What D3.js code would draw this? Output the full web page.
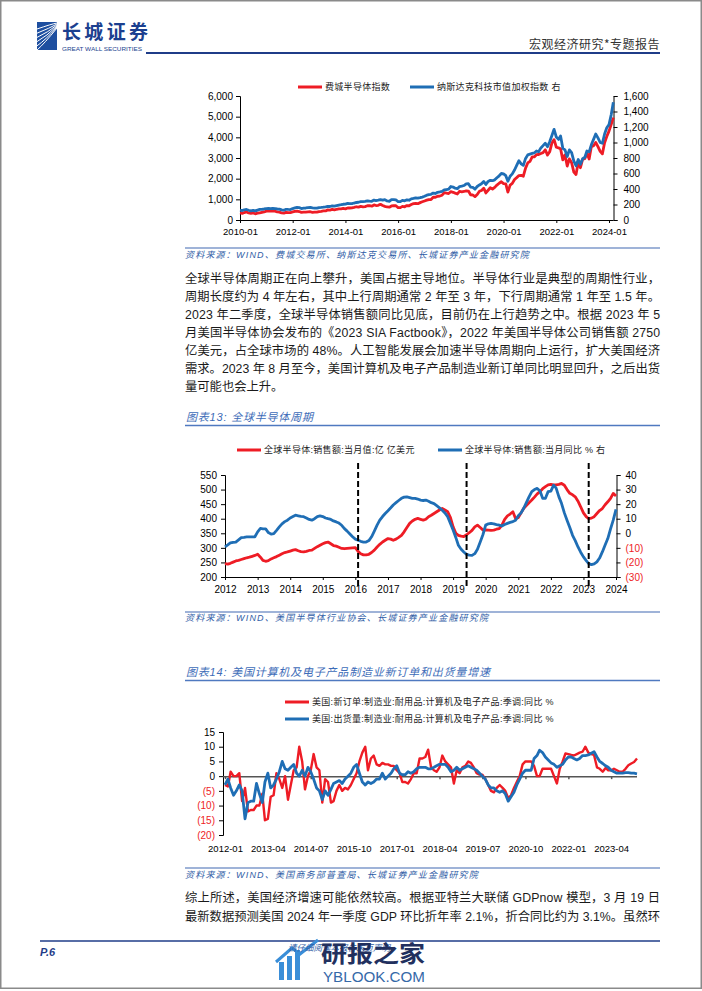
<!DOCTYPE html>
<html><head><meta charset="utf-8">
<script src="https://cdn.jsdelivr.net/npm/d3@7"></script>
<style>
html,body{margin:0;padding:0;background:#fff;}
svg{display:block;}
</style></head>
<body><svg id="page" width="702" height="991"></svg>
<script>
// ================= DATA =================
// Chart 1: monthly, 2010-01 .. 2024-03
const chart1Start = "2010-01";
const soxIndex = [
 340,320,360,390,340,320,340,300,330,350,370,390,
 430,440,430,440,430,390,380,340,330,370,360,360,
 390,420,430,410,370,380,380,390,400,370,380,380,
 410,420,440,440,490,480,510,490,520,540,540,560,
 540,580,580,590,610,640,620,660,640,650,690,690,
 670,730,700,710,760,700,660,630,620,680,700,690,
 600,600,660,640,700,690,750,790,800,790,840,880,
 920,960,990,990,1100,1100,1150,1160,1200,1320,1300,1280,
 1370,1340,1300,1260,1390,1360,1380,1410,1400,1220,1210,1130,
 1230,1390,1430,1540,1310,1440,1560,1500,1580,1690,1780,1850,
 1760,1750,1350,1690,1770,1960,2050,2150,2160,2120,2510,2760,
 2840,3050,3050,3160,3170,3220,3260,3400,3140,3300,3730,3890,
 3520,3490,3450,2910,3150,2610,2960,2770,2320,2200,2790,2530,
 2940,2970,3240,2950,3540,3590,3750,3550,3320,3200,3740,4040,
 4300,4630,4950];
const nasdaqTech = [
 128,122,132,136,126,118,125,117,128,136,138,142,
 147,149,147,151,148,142,140,130,126,138,136,135,
 148,156,162,159,148,152,155,160,163,156,152,152,
 160,162,165,170,176,174,181,178,186,192,197,203,
 205,215,212,211,219,226,229,236,236,240,247,243,
 241,257,251,256,264,256,263,246,242,262,264,259,
 238,236,254,248,260,255,273,279,286,283,288,296,
 306,320,327,332,348,342,357,362,368,388,393,398,
 432,425,410,404,432,437,445,467,468,425,420,398,
 432,452,468,498,458,498,512,507,518,545,570,600,
 595,572,500,565,595,645,705,765,725,705,795,840,
 850,860,865,890,880,930,960,990,945,1010,1090,1170,
 1070,1040,1085,925,905,820,905,870,760,700,780,720,
 790,810,890,880,970,1040,1110,1060,1000,990,1110,1190,
 1230,1360,1520];
const chart1XTicks = ["2010-01","2012-01","2014-01","2016-01","2018-01","2020-01","2022-01","2024-01"];
const chart1LeftTicks = [0,1000,2000,3000,4000,5000,6000];
const chart1RightTicks = [0,200,400,600,800,1000,1200,1400,1600];
const chart1Legend = ["费城半导体指数","纳斯达克科技市值加权指数 右"];

// Chart 2: monthly, 2012-01 .. 2024-01
const chart2Start = "2012-01";
const semiSales = [
 246,244,247,251,255,257,260,263,266,268,271,274,
 278,268,257,254,256,262,266,270,275,280,284,286,
 289,292,294,290,287,286,288,291,292,298,304,309,
 314,318,320,314,308,306,302,298,297,298,299,300,
 301,288,280,276,276,278,284,292,303,312,320,326,
 332,330,326,330,336,343,355,370,384,392,398,401,
 398,395,398,407,412,418,424,430,435,430,424,405,
 372,350,343,340,339,345,352,360,372,378,370,361,
 362,361,360,361,364,366,378,398,410,416,424,401,
 404,420,435,445,455,464,474,485,493,503,510,516,
 518,516,516,518,521,515,500,487,482,475,460,441,
 420,407,400,402,407,418,428,435,448,458,470,487,
 478];
const semiYoY = [
 -9.4,-8,-6.6,-6.2,-6,-4.5,-3,-2.8,-2.5,-2.4,-2.5,-2.4,
 1.0,3.3,3.0,3.0,0.5,-0.6,-0.2,2.0,4.4,6.5,8.0,9.0,
 10.5,11.5,12.4,12.0,11.6,11.4,10.5,9.5,9.0,10.0,11.5,12.0,
 11.5,10.5,10.0,9.5,8.5,7.8,7.0,5.5,3.2,1.5,-0.5,-2.4,
 -4.0,-4.8,-5.5,-6.0,-6.0,-5.0,-2.4,1.5,5.6,9.0,11.5,13.6,
 15.5,17.5,19.4,21,22.5,24,24.8,25,24.5,24,24,23.5,
 22.8,22.5,22.8,22,21,20.4,19,17.5,15.8,14,11.4,7,
 2.2,-3,-8.2,-11,-12.8,-14.5,-15,-15.2,-14,-11,-6,-1,
 5.6,6.5,6.8,6.5,6,5.6,5.0,6.0,6.8,7.5,8,9,
 12,14,17,21,25,28.6,30,30.8,29,24,24,28.6,
 29,33,31,25,20.4,14,9,4,-1.4,-5,-9.4,-13,
 -16.2,-18.7,-20.8,-21.5,-21,-19.6,-17,-12.8,-8,-3.6,3,9,
 16.4];
const chart2XTicks = ["2012","2013","2014","2015","2016","2017","2018","2019","2020","2021","2022","2023","2024"];
const troughMonths = ["2016-02","2019-06","2023-03"];
const chart2LeftTicks = [200,250,300,350,400,450,500,550];
const chart2RightTicks = [-30,-20,-10,0,10,20,30,40];
const chart2Legend = ["全球半导体:销售额:当月值:亿 亿美元","全球半导体:销售额:当月同比 % 右"];

// Chart 3: monthly, 2012-01 .. 2024-01
const chart3Start = "2012-01";
const newOrdersYoY = [
 -3,-3.5,1.5,0,0,1,-8.5,-4,-12,-11.5,
 -11.5,-10,-10,-6,-15,-14.5,-7,-6.5,1,-1,
 -4,0,-8,-3,2,3,10,5,-4.5,0,
 2,7.5,3,2,-9,-1,-2,-9,-8.5,-5,
 -3,-5,-4,-4.5,-3,-1,1,5,8,10,
 2,6,7,4,3.5,4.5,4,4,3.5,3.5,
 2,1,-2,-2,-2.5,-1,1,1,6,6,
 6.5,9,3,2,1.5,3,7,5,4,3,
 -2.5,2,1,3,3.5,5,4.5,3,1,0.5,
 0.5,-1,-3,-5,-5.5,-4,-3,-4,-5,-7.5,
 -6.5,-4,-2,0,4,5,5,5,3.5,0,
 0,2.5,2.5,2.5,2.5,0,-2.5,2.5,5,7.7,
 7.5,7.2,7,7.5,8,8.3,10,8,7.5,7.2,
 3,2.5,1.5,2.8,2,2,2.5,2,1.5,1.5,
 2.5,3.7,4.3,4.8,6];
const shipmentsYoY = [
 -3,-1,-4,-6.5,-5,-3,-5,-14.5,-9,-8.5,
 -8.5,-2.5,-6,-9,-2,1,-4,-3,-1,1.5,
 5,2.5,2,3,4,1,0,2,0,3,
 1.5,-1,-4,-5,-8,-5,-6.5,-4.5,-2.5,-2,
 -1.5,-2.5,-1,0,1,3,4,1,-2,-3,
 -2,-2.5,-2,-1,-1,1,-1,0,1,2.5,
 3.5,1,0.5,0.5,1.5,1,1.5,2.5,3,3,
 3,2.5,2.5,3,3.5,4,4,4,3,1.5,
 2,3,2,2.5,3,3.5,3,2.5,2,1,
 0,-1,-3,-4,-4,-5,-5.5,-5,-6,-8.5,
 -7,-5.5,-3,-1,1,2,2,2,6,7,
 8.8,8,6.5,5.5,4.5,4,3,3.5,4,5.5,
 6.5,6.5,6,5.5,6,7,7,7.2,7.8,8.3,
 6.5,5,4.3,3.5,3,2,1.5,1,1,1,
 1.2,1.2,1,1,0.8];
const chart3XTicks = ["2012-01","2013-04","2014-07","2015-10","2017-01","2018-04","2019-07","2020-10","2022-01","2023-04"];
const chart3YTicks = [-20,-15,-10,-5,0,5,10,15];
const chart3Legend = ["美国:新订单:制造业:耐用品:计算机及电子产品:季调:同比 %","美国:出货量:制造业:耐用品:计算机及电子产品:季调:同比 %"];

// Text
const para1 = [
 "全球半导体周期正在向上攀升，美国占据主导地位。半导体行业是典型的周期性行业，",
 "周期长度约为 4 年左右，其中上行周期通常 2 年至 3 年，下行周期通常 1 年至 1.5 年。",
 "2023 年二季度，全球半导体销售额同比见底，目前仍在上行趋势之中。根据 2023 年 5",
 "月美国半导体协会发布的《2023 SIA Factbook》，2022 年美国半导体公司销售额 2750",
 "亿美元，占全球市场的 48%。人工智能发展会加速半导体周期向上运行，扩大美国经济",
 "需求。2023 年 8 月至今，美国计算机及电子产品制造业新订单同比明显回升，之后出货",
 "量可能也会上升。"];
const para2 = [
 "综上所述，美国经济增速可能依然较高。根据亚特兰大联储 GDPnow 模型，3 月 19 日",
 "最新数据预测美国 2024 年一季度 GDP 环比折年率 2.1%，折合同比约为 3.1%。虽然环"];

// ================= DRAW =================
const svg = d3.select("#page");
const RED = "#EE1C25", BLUE = "#1F6EB5", SRC = "#2F5DA6";
const FONT = "'Liberation Sans', Arial, 'Noto Sans CJK SC', sans-serif";
const parseM = d3.timeParse("%Y-%m");
const parseY = d3.timeParse("%Y");
const monthsFrom = (s, n) => d3.range(n).map(i => d3.timeMonth.offset(parseM(s), i));
const paren = v => v < 0 ? `(${-v})` : `${v}`;

// page frame
svg.append("rect").attr("x",0.75).attr("y",0.75).attr("width",700.5).attr("height",987.5)
  .attr("fill","none").attr("stroke","#8a8a8a").attr("stroke-width",1.5);

// ---- header ----
const logo = svg.append("g");
logo.append("rect").attr("x",37).attr("y",22).attr("width",20).attr("height",28).attr("fill","#1E4FA0");
[0,1,2,3,4,5].forEach(i=>{
  logo.append("path").attr("d",`M${37} ${50-i*4.2} Q ${44+i*1.5} ${44-i*4} ${57} ${28-i*1}`)
   .attr("fill","none").attr("stroke","#fff").attr("stroke-width",1);
});
logo.append("text").attr("x",62).attr("y",39).text("长城证券")
  .attr("font-family","'Noto Sans CJK SC'").attr("font-weight",700).attr("font-size",19)
  .attr("fill","#1B3F8F").attr("textLength",86).attr("lengthAdjust","spacing");
logo.append("text").attr("x",62).attr("y",50.5).text("GREAT WALL SECURITIES")
  .attr("font-family",FONT).attr("font-size",5.5).attr("fill","#1B3F8F")
  .attr("textLength",80).attr("lengthAdjust","spacingAndGlyphs");
svg.append("text").attr("x",660).attr("y",49).attr("text-anchor","end").text("宏观经济研究*专题报告")
  .attr("font-family","'Noto Sans CJK SC'").attr("font-size",12).attr("fill","#333")
  .attr("letter-spacing",0.5);
svg.append("line").attr("x1",146).attr("x2",660).attr("y1",53).attr("y2",53)
  .attr("stroke","#1F3C88").attr("stroke-width",2);

// helpers
function styleAxis(g, fs){
  g.attr("font-family",FONT).attr("font-size",fs||9.5);
  g.selectAll("path,line").attr("stroke","#000").attr("stroke-width",1);
  g.selectAll("text").attr("fill","#000");
}
function legendItem(x, y, color, label, lw){
  svg.append("line").attr("x1",x).attr("x2",x+(lw||24)).attr("y1",y).attr("y2",y)
    .attr("stroke",color).attr("stroke-width",3);
  svg.append("text").attr("x",x+(lw||24)+3).attr("y",y+3.3).text(label)
    .attr("font-family",FONT).attr("font-size",9).attr("letter-spacing",0.3).attr("fill","#222");
}
function sourceText(y, t){
  svg.append("text").attr("x",185).attr("y",y).text(t)
    .attr("font-family",FONT).attr("font-size",9).attr("font-style","italic")
    .attr("letter-spacing",1.2).attr("fill",SRC);
}
function hline(y, color, w, x1, x2){
  svg.append("line").attr("x1",x1||185).attr("x2",x2||660).attr("y1",y).attr("y2",y)
    .attr("stroke",color).attr("stroke-width",w);
}
function titleText(y, t){
  svg.append("text").attr("x",186).attr("y",y).text(t)
    .attr("font-family",FONT).attr("font-size",11).attr("font-style","italic")
    .attr("letter-spacing",0.8).attr("fill","#3D6CB8");
}
function paragraph(lines, y0, lh, justifyLast){
  lines.forEach((t,i)=>{
    const tx = svg.append("text").attr("x",185).attr("y",y0+i*lh).text(t)
      .attr("font-family",FONT).attr("font-size",12.3).attr("fill","#1a1a1a");
    if (i < lines.length-1 || justifyLast) tx.attr("textLength",475).attr("lengthAdjust","spacing");
  });
}

// ---- chart 1 ----
{
  const months = monthsFrom(chart1Start, soxIndex.length);
  const x = d3.scaleTime().domain([parseM("2010-01"), parseM("2024-01")]).range([240, 609]);
  const yL = d3.scaleLinear().domain([0,6000]).range([220,96]);
  const yR = d3.scaleLinear().domain([0,1600]).range([220,96]);
  legendItem(298, 87, RED, chart1Legend[0]);
  legendItem(410, 87, BLUE, chart1Legend[1]);
  const gl = svg.append("g").attr("transform","translate(240,0)")
    .call(d3.axisLeft(yL).tickValues(chart1LeftTicks).tickFormat(d3.format(",")).tickSize(4).tickPadding(3));
  styleAxis(gl, 10);
  const gr = svg.append("g").attr("transform","translate(613.5,0)")
    .call(d3.axisRight(yR).tickValues(chart1RightTicks).tickFormat(d3.format(",")).tickSize(4).tickPadding(6));
  styleAxis(gr, 10);
  const gb = svg.append("g").attr("transform","translate(0,220)")
    .call(d3.axisBottom(x).tickValues(chart1XTicks.map(parseM)).tickFormat(d3.timeFormat("%Y-%m")).tickSize(3).tickPadding(5));
  gb.select(".domain").attr("d", "M240,0.5H613.5");
  styleAxis(gb, 9.5);
  svg.append("path").datum(soxIndex).attr("fill","none").attr("stroke",RED).attr("stroke-width",2.8)
    .attr("stroke-linejoin","round")
    .attr("d", d3.line().x((d,i)=>x(months[i])).y(d=>yL(d)));
  svg.append("path").datum(nasdaqTech).attr("fill","none").attr("stroke",BLUE).attr("stroke-width",2.8)
    .attr("stroke-linejoin","round")
    .attr("d", d3.line().x((d,i)=>x(months[i])).y(d=>yR(d)));
}
hline(248, "#7F9ACB", 1.5);
sourceText(258, "资料来源：WIND、费城交易所、纳斯达克交易所、长城证券产业金融研究院");

paragraph(para1, 283.3, 18, false);

titleText(420.5, "图表13:  全球半导体周期");
hline(425.5, "#4F79C0", 1.5);

// ---- chart 2 ----
{
  const months = monthsFrom(chart2Start, semiSales.length);
  const x = d3.scaleTime().domain([parseY("2012"), parseY("2024")]).range([225, 616]);
  const yL = d3.scaleLinear().domain([200,550]).range([577,475]);
  const yR = d3.scaleLinear().domain([-30,40]).range([577,475]);
  legendItem(237, 450, RED, chart2Legend[0]);
  legendItem(438, 450, BLUE, chart2Legend[1]);
  const gl = svg.append("g").attr("transform","translate(225,0)")
    .call(d3.axisLeft(yL).tickValues(chart2LeftTicks).tickSize(4).tickPadding(4));
  styleAxis(gl, 10);
  const gr = svg.append("g").attr("transform","translate(616.5,0)")
    .call(d3.axisRight(yR).tickValues(chart2RightTicks).tickFormat(paren).tickSize(4).tickPadding(5));
  styleAxis(gr, 10);
  gr.selectAll(".tick text").attr("fill", d => d < 0 ? RED : "#000");
  const gb = svg.append("g").attr("transform","translate(0,577)")
    .call(d3.axisBottom(x).tickValues(chart2XTicks.map(parseY)).tickFormat(d3.timeFormat("%Y")).tickSize(3).tickPadding(6));
  styleAxis(gb, 10);
  svg.append("path").datum(semiSales).attr("fill","none").attr("stroke",RED).attr("stroke-width",2.8)
    .attr("stroke-linejoin","round")
    .attr("d", d3.line().x((d,i)=>x(months[i])).y(d=>yL(d)));
  svg.append("path").datum(semiYoY).attr("fill","none").attr("stroke",BLUE).attr("stroke-width",2.8)
    .attr("stroke-linejoin","round")
    .attr("d", d3.line().x((d,i)=>x(months[i])).y(d=>yR(d)));
  svg.selectAll(".trough").data(troughMonths.map(parseM)).enter().append("line")
    .attr("x1",d=>x(d)).attr("x2",d=>x(d)).attr("y1",463).attr("y2",586)
    .attr("stroke","#000").attr("stroke-width",2).attr("stroke-dasharray","6,3");
}
hline(612, "#7F9ACB", 1.5);
sourceText(621, "资料来源：WIND、美国半导体行业协会、长城证券产业金融研究院");

titleText(675.5, "图表14:  美国计算机及电子产品制造业新订单和出货量增速");
hline(680.5, "#4F79C0", 1.5);

// ---- chart 3 ----
{
  const months = monthsFrom(chart3Start, newOrdersYoY.length);
  const x = d3.scaleTime().domain([parseM("2012-01"), parseM("2024-01")]).range([225, 637]);
  const y = d3.scaleLinear().domain([-20,15]).range([835,732]);
  legendItem(285, 702, RED, chart3Legend[0]);
  legendItem(285, 719, BLUE, chart3Legend[1]);
  const gl = svg.append("g").attr("transform","translate(223,0)")
    .call(d3.axisLeft(y).tickValues(chart3YTicks).tickFormat(paren).tickSize(4).tickPadding(4));
  styleAxis(gl, 10);
  gl.selectAll(".tick text").attr("fill", d => d < 0 ? RED : "#000");
  const g0 = svg.append("g").attr("transform",`translate(0,${y(0)})`)
    .call(d3.axisBottom(x).tickValues(chart3XTicks.map(parseM)).tickFormat("").tickSize(3));
  g0.select(".domain").attr("d","M223,0.5H637");
  styleAxis(g0);
  g0.selectAll("path,line").attr("stroke","#555").attr("stroke-width",1.5);
  const gb = svg.append("g").attr("transform","translate(0,835)")
    .call(d3.axisBottom(x).tickValues(chart3XTicks.map(parseM)).tickFormat(d3.timeFormat("%Y-%m")).tickSize(0).tickPadding(10));
  gb.select(".domain").remove();
  styleAxis(gb, 9.5);
  svg.append("path").datum(newOrdersYoY).attr("fill","none").attr("stroke",RED).attr("stroke-width",2.4)
    .attr("stroke-linejoin","round")
    .attr("d", d3.line().x((d,i)=>x(months[i])).y(d=>y(d)));
  svg.append("path").datum(shipmentsYoY).attr("fill","none").attr("stroke",BLUE).attr("stroke-width",2.8)
    .attr("stroke-linejoin","round")
    .attr("d", d3.line().x((d,i)=>x(months[i])).y(d=>y(d)));
}
hline(868, "#7F9ACB", 1.5);
sourceText(878, "资料来源：WIND、美国商务部普查局、长城证券产业金融研究院");

paragraph(para2, 902.3, 18.5, true);

// ---- footer ----
hline(941, "#1F3C88", 1.5, 40, 660);
svg.append("text").attr("x",40).attr("y",956).text("P.6")
  .attr("font-family",FONT).attr("font-size",11).attr("font-weight",700).attr("font-style","italic").attr("fill","#1F3C88");
// watermark
const wm = svg.append("g");
[[279,962,5,18],[287,956,5,24],[295,950,5,30]].forEach(r=>{
  wm.append("rect").attr("x",r[0]).attr("y",r[1]).attr("width",r[2]).attr("height",r[3]).attr("fill","#3A8ED8");
});
wm.append("path").attr("d","M276 962 L292 948 L300 954 L318 940").attr("fill","none").attr("stroke","#3A8ED8").attr("stroke-width",3);
wm.append("text").attr("x",288).attr("y",951).text("请仔细阅读本报告末页声明")
  .attr("font-family",FONT).attr("font-size",8.5).attr("font-style","italic").attr("fill","#2F5DA6");
wm.append("text").attr("x",321).attr("y",962).text("研报之家")
  .attr("font-family","'Noto Sans CJK SC'").attr("font-weight",700).attr("font-size",23).attr("fill","#22305E")
  .attr("textLength",104).attr("lengthAdjust","spacingAndGlyphs");
wm.append("text").attr("x",323).attr("y",982).text("YBLOOK.COM")
  .attr("font-family",FONT).attr("font-size",14).attr("fill","#3568A8")
  .attr("textLength",102).attr("lengthAdjust","spacingAndGlyphs");
</script></body></html>
